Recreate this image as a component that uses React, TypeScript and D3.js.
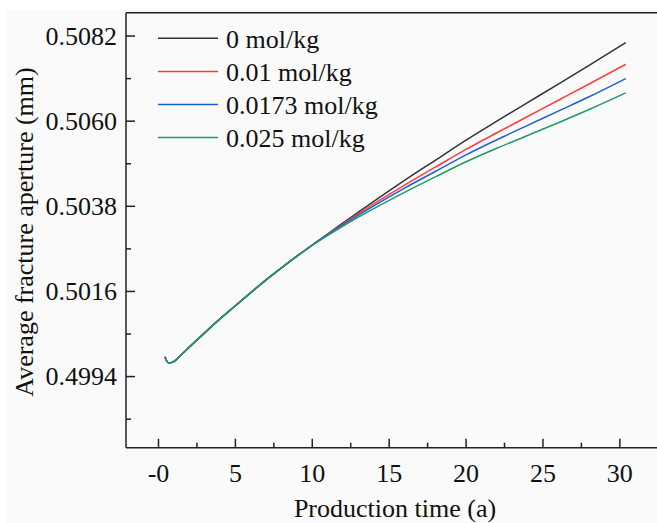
import React from "react";
import * as d3 from "d3";

// ---- data ----
const sharedTimes = [0.42, 0.52, 0.64, 0.8, 1.0, 1.5, 2, 3, 4, 5, 6, 7, 8, 9];
const sharedAperture = [0.49991, 0.49981, 0.49976, 0.49976, 0.49979, 0.49997, 0.50016, 0.50053, 0.50089, 0.50123, 0.50157, 0.5019, 0.50221, 0.50251];

const lateTimes = [10, 12, 14, 16, 18, 20, 22, 24, 26, 28, 30.38];
const aperture0 = [0.5028, 0.50337, 0.50393, 0.50447, 0.50499, 0.50551, 0.506, 0.50648, 0.50696, 0.50744, 0.50803];
const aperture001 = [0.5028, 0.50334, 0.50386, 0.50435, 0.50481, 0.50527, 0.5057, 0.50612, 0.50654, 0.50696, 0.50747];
const aperture00173 = [0.5028, 0.50332, 0.50381, 0.50427, 0.5047, 0.50513, 0.50552, 0.50589, 0.50626, 0.50663, 0.5071];
const aperture0025 = [0.50279, 0.50329, 0.50374, 0.50416, 0.50456, 0.50495, 0.5053, 0.50563, 0.50596, 0.5063, 0.50673];

const seriesLabels = ["0 mol/kg", "0.01 mol/kg", "0.0173 mol/kg", "0.025 mol/kg"];
const seriesColors = ["#333333", "#ff3c3c", "#1f5fd6", "#1f9a63"];
const lateSeries = [aperture0, aperture001, aperture00173, aperture0025];

const xMajorTicks = [0, 5, 10, 15, 20, 25, 30];
const xTickLabels = ["-0", "5", "10", "15", "20", "25", "30"];
const xMinorTicks = [2.5, 7.5, 12.5, 17.5, 22.5, 27.5, 32.5];
const yMajorTicks = [0.4994, 0.5016, 0.5038, 0.506, 0.5082];
const yMinorTicks = [0.4983, 0.5005, 0.5027, 0.5049, 0.5071];

const W = 657;
const H = 523;
const left = 126;
const right = 658.3;
const top = 12.7;
const bottom = 447.7;
const FONT = "'Liberation Serif', 'Times New Roman', serif";

export default function App() {
  const x = d3.scaleLinear().domain([-2.113, 32.5]).range([left, right]);
  const y = d3.scaleLinear().domain([0.497562, 0.508803]).range([bottom, top]);

  const data = lateSeries.map((vals) => {
    const pts: [number, number][] = [];
    sharedTimes.forEach((t, i) => pts.push([t, sharedAperture[i]]));
    lateTimes.forEach((t, i) => pts.push([t, vals[i]]));
    return pts;
  });

  const line = d3
    .line<[number, number]>()
    .x((d) => x(d[0]))
    .y((d) => y(d[1]))
    .curve(d3.curveMonotoneX);

  const axisColor = "#222";
  const legendY0 = 38.3;
  const legendStep = 33.1;

  return (
    <svg
      width={W}
      height={H}
      style={{ position: "fixed", left: 0, top: 0, display: "block" }}
      fontFamily={FONT}
    >
      <rect x={0} y={0} width={W} height={H} fill="#ffffff" />
      <rect x={6} y={10} width={W - 6} height={H - 10} fill="#fafafa" />

      {/* curves */}
      {data.map((pts, i) => (
        <path key={i} d={line(pts) || ""} fill="none" stroke={seriesColors[i]} strokeWidth={1.5} />
      ))}

      {/* frame */}
      <line x1={left} x2={right} y1={top} y2={top} stroke={axisColor} strokeWidth={1.5} />
      <line x1={left} x2={right} y1={bottom} y2={bottom} stroke={axisColor} strokeWidth={1.5} />
      <line x1={left} x2={left} y1={top} y2={bottom} stroke={axisColor} strokeWidth={1.5} />
      <line x1={right} x2={right} y1={top} y2={bottom} stroke={axisColor} strokeWidth={1.5} />

      {/* y ticks */}
      {yMajorTicks.map((v) => (
        <g key={"ym" + v}>
          <line x1={left} x2={left + 9} y1={y(v)} y2={y(v)} stroke={axisColor} strokeWidth={1.5} />
          <text x={117} y={y(v)} dy="0.33em" textAnchor="end" fontSize={26} fill="#111">
            {v.toFixed(4)}
          </text>
        </g>
      ))}
      {yMinorTicks.map((v) => (
        <line key={"yn" + v} x1={left} x2={left + 5} y1={y(v)} y2={y(v)} stroke={axisColor} strokeWidth={1.5} />
      ))}

      {/* x ticks */}
      {xMajorTicks.map((v, i) => (
        <g key={"xm" + v}>
          <line x1={x(v)} x2={x(v)} y1={bottom} y2={bottom - 9} stroke={axisColor} strokeWidth={1.5} />
          <text x={x(v)} y={482} textAnchor="middle" fontSize={26} fill="#111">
            {xTickLabels[i]}
          </text>
        </g>
      ))}
      {xMinorTicks.map((v) => (
        <line key={"xn" + v} x1={x(v)} x2={x(v)} y1={bottom} y2={bottom - 5} stroke={axisColor} strokeWidth={1.5} />
      ))}

      {/* axis titles */}
      <text x={395} y={517} textAnchor="middle" fontSize={26} fill="#111">
        Production time (a)
      </text>
      <text
        transform={`translate(33, 232) rotate(-90)`}
        textAnchor="middle"
        fontSize={26}
        fill="#111"
      >
        Average fracture aperture (mm)
      </text>

      {/* legend */}
      {seriesLabels.map((lab, i) => {
        const ly = legendY0 + i * legendStep;
        return (
          <g key={lab}>
            <line x1={158} x2={218} y1={ly} y2={ly} stroke={seriesColors[i]} strokeWidth={1.5} />
            <text x={226} y={ly} dy="0.38em" fontSize={26} fill="#111">
              {lab}
            </text>
          </g>
        );
      })}
    </svg>
  );
}
